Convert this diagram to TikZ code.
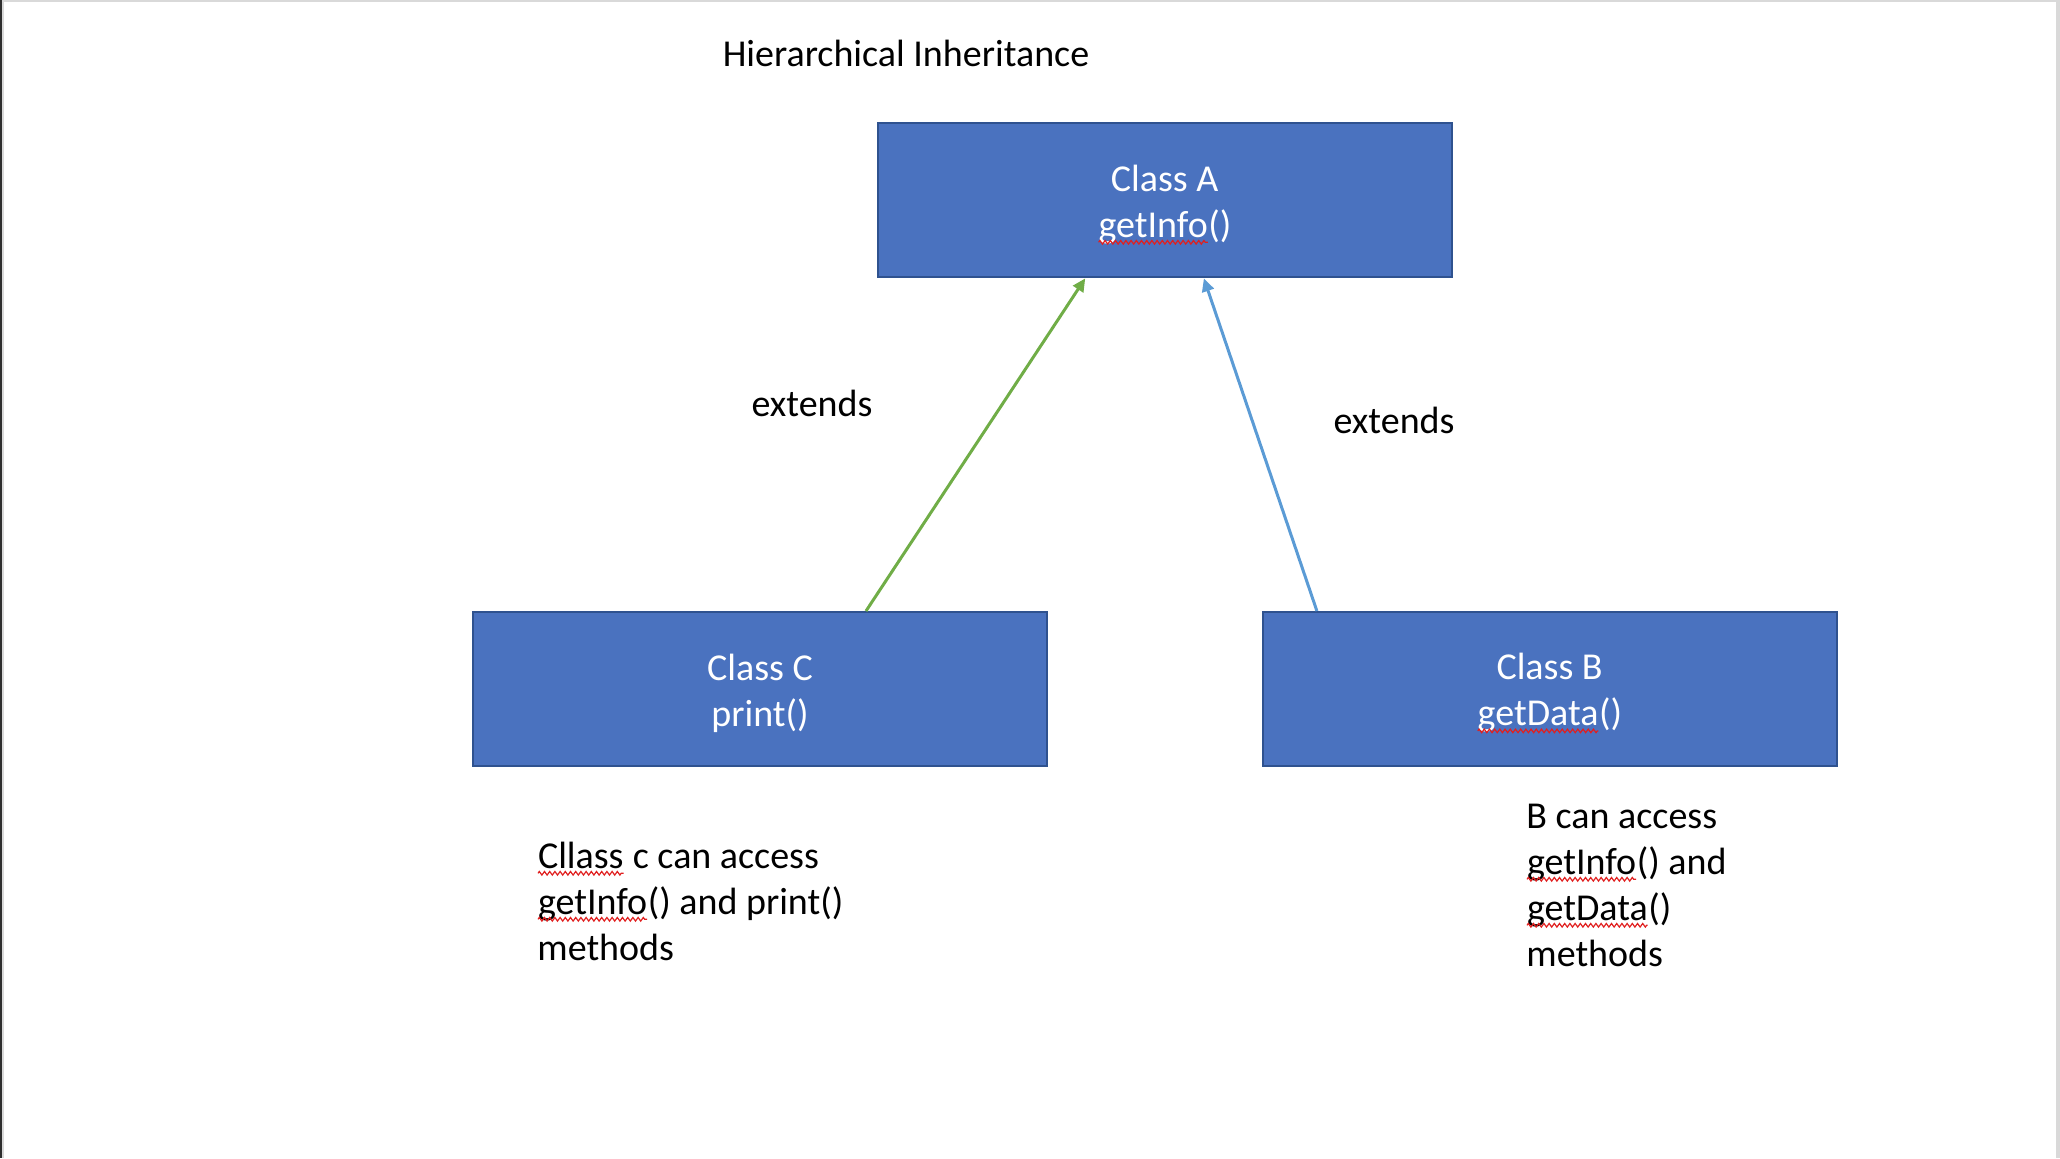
\documentclass[tikz,border=0pt]{standalone}
\usepackage{fontspec}
\setmainfont{Carlito}
\usepackage{xcolor}
\usepackage{tikz}
\usetikzlibrary{arrows.meta,positioning,calc,decorations.pathmorphing}
\definecolor{boxblue}{HTML}{4A72BF}
\definecolor{boxedge}{HTML}{2F528F}
\definecolor{linkgreen}{HTML}{70AD47}
\definecolor{linkblue}{HTML}{5B9BD5}
\definecolor{squigred}{HTML}{E02020}
\definecolor{frameedge}{HTML}{D9D9D9}
\definecolor{framedark}{HTML}{2E2E2E}
\tikzset{
    classbox/.style={draw=boxedge,fill=boxblue,line width=1pt,
      minimum width=287pt,minimum height=77pt,inner sep=0pt,
      text=white,align=center},
    notetext/.style={inner sep=0pt,align=left,text=black},
    extendsarrow/.style={-{Triangle[length=6.5pt,width=6pt]},line width=1.5pt},
    squiggle/.style={draw=squigred,fill=none,line width=0.6pt,
      decorate,decoration={zigzag,amplitude=0.9pt,segment length=2.6pt}}
}
% red spell-check wave under a word
\newcommand{\spellmark}[1]{\tikz[baseline=(sw.base)]{%
  \node[draw=none,fill=none,shape=rectangle,minimum width=0pt,minimum height=0pt,
    inner sep=0pt,outer sep=0pt,anchor=center] (sw) {#1};
  \draw[squiggle] ([yshift=-2.6pt]sw.base west) -- ([yshift=-2.6pt]sw.base east);}}
% two-line class label, set a little low in its box
\newcommand{\classlabel}[2]{\rule{0pt}{17.5pt}#1\\#2}
\begin{document}
\begin{tikzpicture}[x=0.5pt,y=-0.5pt,font=\fontsize{19}{23}\selectfont]
  \useasboundingbox (0,0) rectangle (2060,1158);
  % screenshot frame
  \fill[frameedge] (0,0) rectangle (2060,2);
  \fill[frameedge] (2056,0) rectangle (2060,1158);
  \fill[framedark] (0,0) rectangle (2,1158);
  \fill[frameedge] (2,2) rectangle (4,1158);
  \node[anchor=base] (title) at (906,66) {Hierarchical Inheritance};
  \node[classbox] (A) at (1164.7,200.4) {\classlabel{Class A}{\spellmark{getInfo}()}};
  \node[classbox] (C) at (760,689) {\classlabel{Class C}{print()}};
  \node[classbox] (B) at (1549.6,689) {\classlabel{Class B}{\spellmark{getData}()}};
  \coordinate (cTail) at ($(C.north west)!0.684!(C.north east)$);
  \coordinate (aLeft) at ($(A.south west)!0.362!(A.south east)$);
  \coordinate (bTail) at ($(B.north west)!0.096!(B.north east)$);
  \coordinate (aRight) at ($(A.south west)!0.568!(A.south east)$);
  \draw[extendsarrow,linkgreen] (cTail) -- (aLeft);
  \draw[extendsarrow,linkblue] (bTail) -- (aRight);
  \node[anchor=base] (extC) at (812,416) {extends};
  \node[anchor=base] (extB) at (1394,433) {extends};
  % notes under the classes
  \node[notetext,anchor=west] (noteC) at (537,901)
    {\spellmark{Cllass} c can access\\\spellmark{getInfo}() and print()\\methods};
  \node[notetext,anchor=west] (noteB) at (1526,885)
    {B can access\\\spellmark{getInfo}() and\\\spellmark{getData}()\\methods};
\end{tikzpicture}
\end{document}
